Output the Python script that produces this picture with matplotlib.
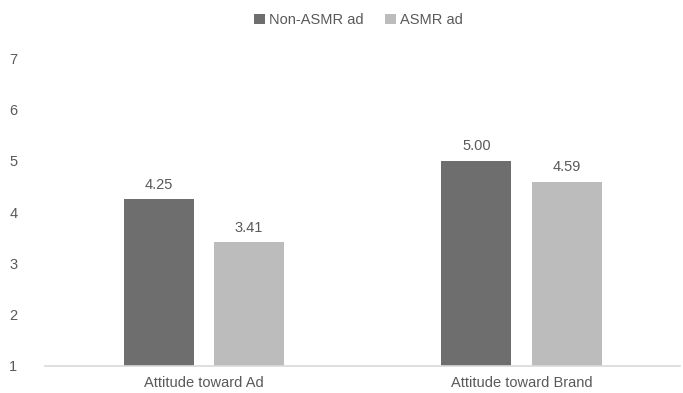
import matplotlib
matplotlib.use("Agg")
import matplotlib.pyplot as plt
import numpy as np

# ==========================================================
# Data
# ==========================================================

categories = ["Attitude toward Ad", "Attitude toward Brand"]
series_names = ["Non-ASMR ad", "ASMR ad"]
non_asmr = [4.25, 5.00]
asmr = [3.41, 4.59]

colors = ["#6e6e6e", "#bcbcbc"]
text_color = "#595959"

plt.rcParams["font.family"] = ["Liberation Sans", "DejaVu Sans"]

fig = plt.figure(figsize=(6.83, 3.93), dpi=100)
ax = fig.add_axes([0.066, 0.069, 0.93, 0.783])

x = np.arange(len(categories))
width = 0.22
offset = 0.142

for vals, name, color, dx in zip(
    [non_asmr, asmr], series_names, colors, [-offset, offset]
):
    bars = ax.bar(
        x + dx,
        np.array(vals) - 1,
        bottom=1,
        width=width,
        color=color,
        label=name
    )
    for b, v in zip(bars, vals):
        ax.text(
            b.get_x() + b.get_width() / 2,
            v + 0.15,
            f"{v:.2f}",
            ha="center",
            va="bottom",
            fontsize=10.5,
            color=text_color
        )

ax.set_xlim(-0.5, 1.5)
ax.set_ylim(1, 7)
ax.set_yticks(range(1, 8))
ax.set_xticks(x)
ax.set_xticklabels(categories)

ax.tick_params(axis="both", length=0, labelsize=10.5, colors=text_color)
ax.tick_params(axis="y", pad=20)
ax.tick_params(axis="x", pad=7)

for side in ["top", "right", "left"]:
    ax.spines[side].set_visible(False)
ax.spines["bottom"].set_color("#d9d9d9")
ax.spines["bottom"].set_linewidth(1.2)

leg = fig.legend(
    loc="upper center",
    bbox_to_anchor=(0.525, 1.0),
    ncol=2,
    frameon=False,
    fontsize=10.5,
    handlelength=0.7,
    handleheight=0.7,
    handletextpad=0.3,
    columnspacing=1.5
)
for t in leg.get_texts():
    t.set_color(text_color)

fig.savefig("out.png", dpi=100)
